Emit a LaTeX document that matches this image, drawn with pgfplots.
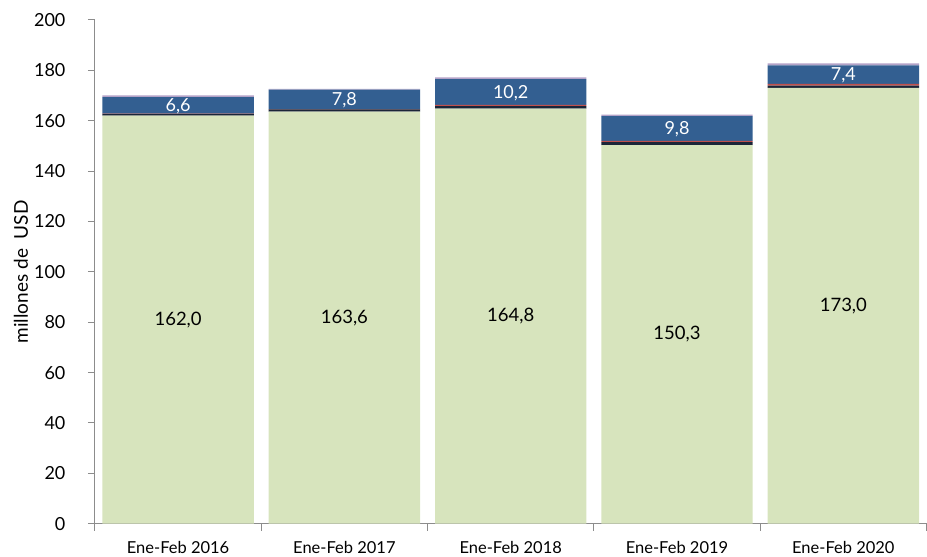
\documentclass[border=0pt]{standalone}
\usepackage{fontspec}
\setmainfont{Lato}
\usepackage{pgfplots}
\pgfplotsset{compat=1.18}
\definecolor{cgreen}{HTML}{D7E4BD}
\definecolor{cnavy}{HTML}{1B2538}
\definecolor{cred}{HTML}{C0504D}
\definecolor{cblue}{HTML}{335F91}
\definecolor{clilac}{HTML}{B3A2C7}
\definecolor{caxis}{HTML}{8C8C8C}
\begin{document}
\begin{tikzpicture}
\begin{axis}[
  name=main,
  scale only axis, width=832pt, height=504pt,
  ybar stacked, bar width=0.91,
  xmin=-0.5, xmax=4.5, ymin=0, ymax=200,
  ytick={0,20,...,200},
  xtick={0,...,4},
  xticklabels={Ene-Feb 2016,Ene-Feb 2017,Ene-Feb 2018,Ene-Feb 2019,Ene-Feb 2020},
  minor xtick={-0.5,0.5,...,4.5},
  axis lines*=left,
  axis line style={caxis, line width=1pt},
  major x tick style={draw=none},
  tick style={caxis, line width=1pt},
  tick align=outside, major tick length=7pt, minor tick length=7pt,
  /pgf/number format/assume math mode=true,
  yticklabel style={font=\fontsize{18}{20}\selectfont, text=black, xshift=-19pt},
  xticklabel style={font=\fontsize{16.5}{18}\selectfont, text=black, yshift=-7pt},
  ylabel={millones de\ \ USD},
  every axis y label/.style={at={(axis description cs:-0.0889,0.5)}, rotate=90, anchor=center, font=\fontsize{19}{21}\selectfont},
  clip=false,
]
\addplot[fill=cgreen, draw=none,
  nodes near coords={\pgfmathprintnumber[fixed,zerofill,precision=1,use comma]{\pgfplotspointmeta}},
  point meta=rawy,
  every node near coord/.style={anchor=center, font=\fontsize{18.5}{20}\selectfont, text=black}]
  coordinates {(0,162.0) (1,163.6) (2,164.8) (3,150.3) (4,173.0)};
\addplot[fill=cnavy, draw=none] coordinates {(0,0.7) (1,0.9) (2,1.0) (3,1.2) (4,0.9)};
\addplot[fill=cred, draw=none] coordinates {(0,0.1) (1,0.1) (2,0.5) (3,0.5) (4,0.7)};
\addplot[fill=cblue, draw=none,
  nodes near coords={\pgfmathprintnumber[fixed,zerofill,precision=1,use comma]{\pgfplotspointmeta}},
  point meta=rawy,
  every node near coord/.style={anchor=center, yshift=-1pt, font=\fontsize{18}{20}\selectfont, text=white}]
  coordinates {(0,6.6) (1,7.8) (2,10.2) (3,9.8) (4,7.4)};
\addplot[fill=clilac, draw=none] coordinates {(0,0.7) (1,0.2) (2,0.7) (3,0.6) (4,0.8)};
\end{axis}
\path (main.south west) ++(-95pt,-33pt) (main.north east) ++(0,20pt);
\end{tikzpicture}
\end{document}
